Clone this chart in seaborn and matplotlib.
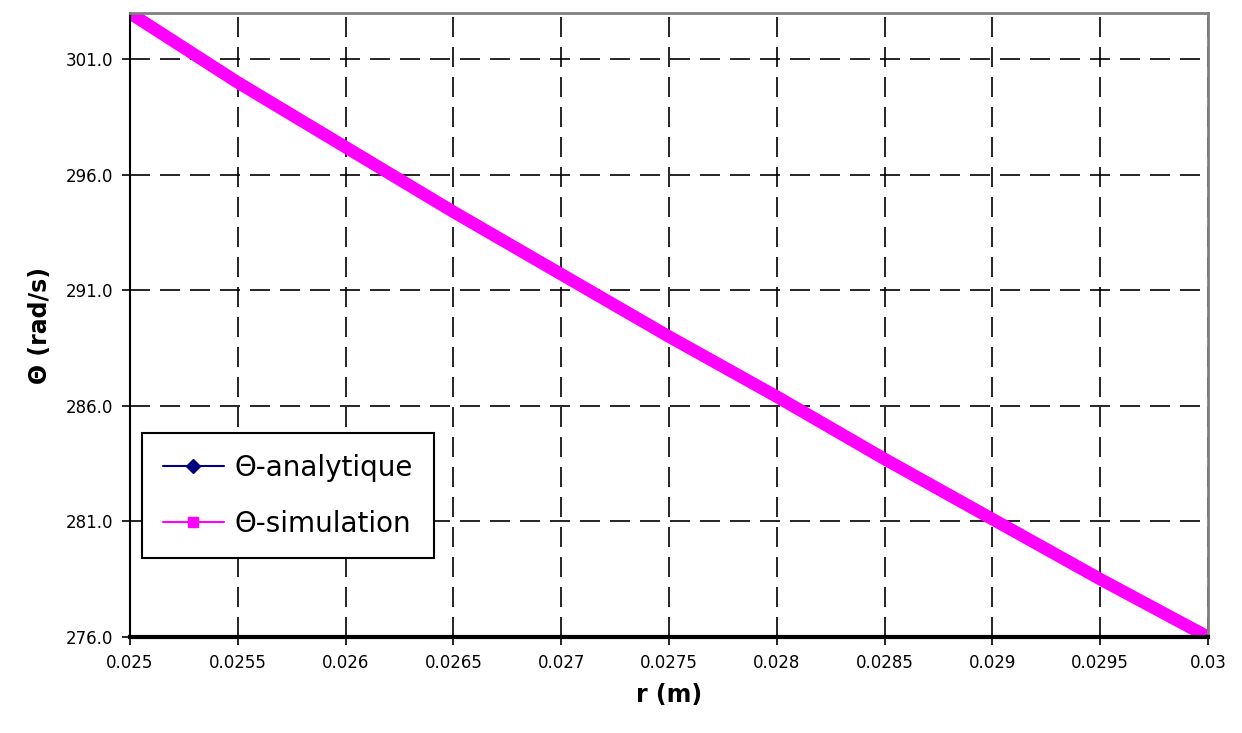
import numpy as np
import pandas as pd
import matplotlib
matplotlib.use("Agg")
import matplotlib.pyplot as plt
import seaborn as sns
from matplotlib.lines import Line2D

# values
r = [0.025, 0.0255, 0.026, 0.0265, 0.027, 0.0275, 0.028, 0.0285, 0.029, 0.0295, 0.03]
theta_analytique = [303.0, 300.0, 297.2, 294.4, 291.7, 289.0, 286.4, 283.7, 281.1, 278.5, 276.0]
theta_simulation = [303.0, 300.0, 297.2, 294.4, 291.7, 289.0, 286.4, 283.7, 281.1, 278.5, 276.0]
x_ticks = [0.025, 0.0255, 0.026, 0.0265, 0.027, 0.0275, 0.028, 0.0285, 0.029, 0.0295, 0.03]
x_labels = ["0.025", "0.0255", "0.026", "0.0265", "0.027", "0.0275", "0.028", "0.0285", "0.029", "0.0295", "0.03"]
y_ticks = [276.0, 281.0, 286.0, 291.0, 296.0, 301.0]

df = pd.DataFrame({"r": r, "ana": theta_analytique, "sim": theta_simulation})

sns.set_style("white")
plt.rcParams["font.family"] = ["DejaVu Sans"]

fig = plt.figure(figsize=(12.42, 7.33), dpi=100)
ax = fig.add_axes([0.1047, 0.131, 0.868, 0.851])

sns.lineplot(x="r", y="ana", data=df, ax=ax, color="#000080", linewidth=1.5,
             marker="D", markersize=6, label="Θ-analytique")
sns.lineplot(x="r", y="sim", data=df, ax=ax, color="#FF00FF", linewidth=9,
             solid_capstyle="butt", label="Θ-simulation")

ax.set_xlim(0.025, 0.03)
ax.set_ylim(276.0, 303.0)
ax.set_xticks(x_ticks)
ax.set_xticklabels(x_labels, fontsize=12, color="black")
ax.set_yticks(y_ticks)
ax.set_yticklabels([f"{v:.1f}" for v in y_ticks], fontsize=12, color="black")
ax.tick_params(axis="both", direction="out", length=6, width=1.2, color="black",
               bottom=True, left=True, pad=6)

ax.grid(True, color="black", linestyle=(0, (12, 6)), linewidth=1.2)
ax.set_axisbelow(True)

for side in ["top", "right"]:
    ax.spines[side].set_color("#808080")
    ax.spines[side].set_linewidth(2)
ax.spines["left"].set_color("black")
ax.spines["left"].set_linewidth(1.5)
ax.spines["bottom"].set_color("black")
ax.spines["bottom"].set_linewidth(3)

ax.set_xlabel("r (m)", fontsize=17, fontweight="bold", labelpad=8, color="black")
ax.set_ylabel("Θ (rad/s)", fontsize=17, fontweight="bold", labelpad=10, color="black")

# legend handles drawn like the original (thin line + marker)
handles = [
    Line2D([], [], color="#000080", linewidth=1.5, marker="D", markersize=7),
    Line2D([], [], color="#FF00FF", linewidth=1.5, marker="s", markersize=7),
]
leg = ax.legend(handles, ["Θ-analytique", "Θ-simulation"], loc="upper left",
                bbox_to_anchor=(0.011, 0.327), borderaxespad=0, fontsize=20,
                frameon=True, fancybox=False, edgecolor="black", framealpha=1,
                handlelength=2.2, handletextpad=0.4, borderpad=0.75, labelspacing=1.0)
leg.get_frame().set_linewidth(1.5)
for t in leg.get_texts():
    t.set_color("black")

fig.savefig("out.png", dpi=100)
